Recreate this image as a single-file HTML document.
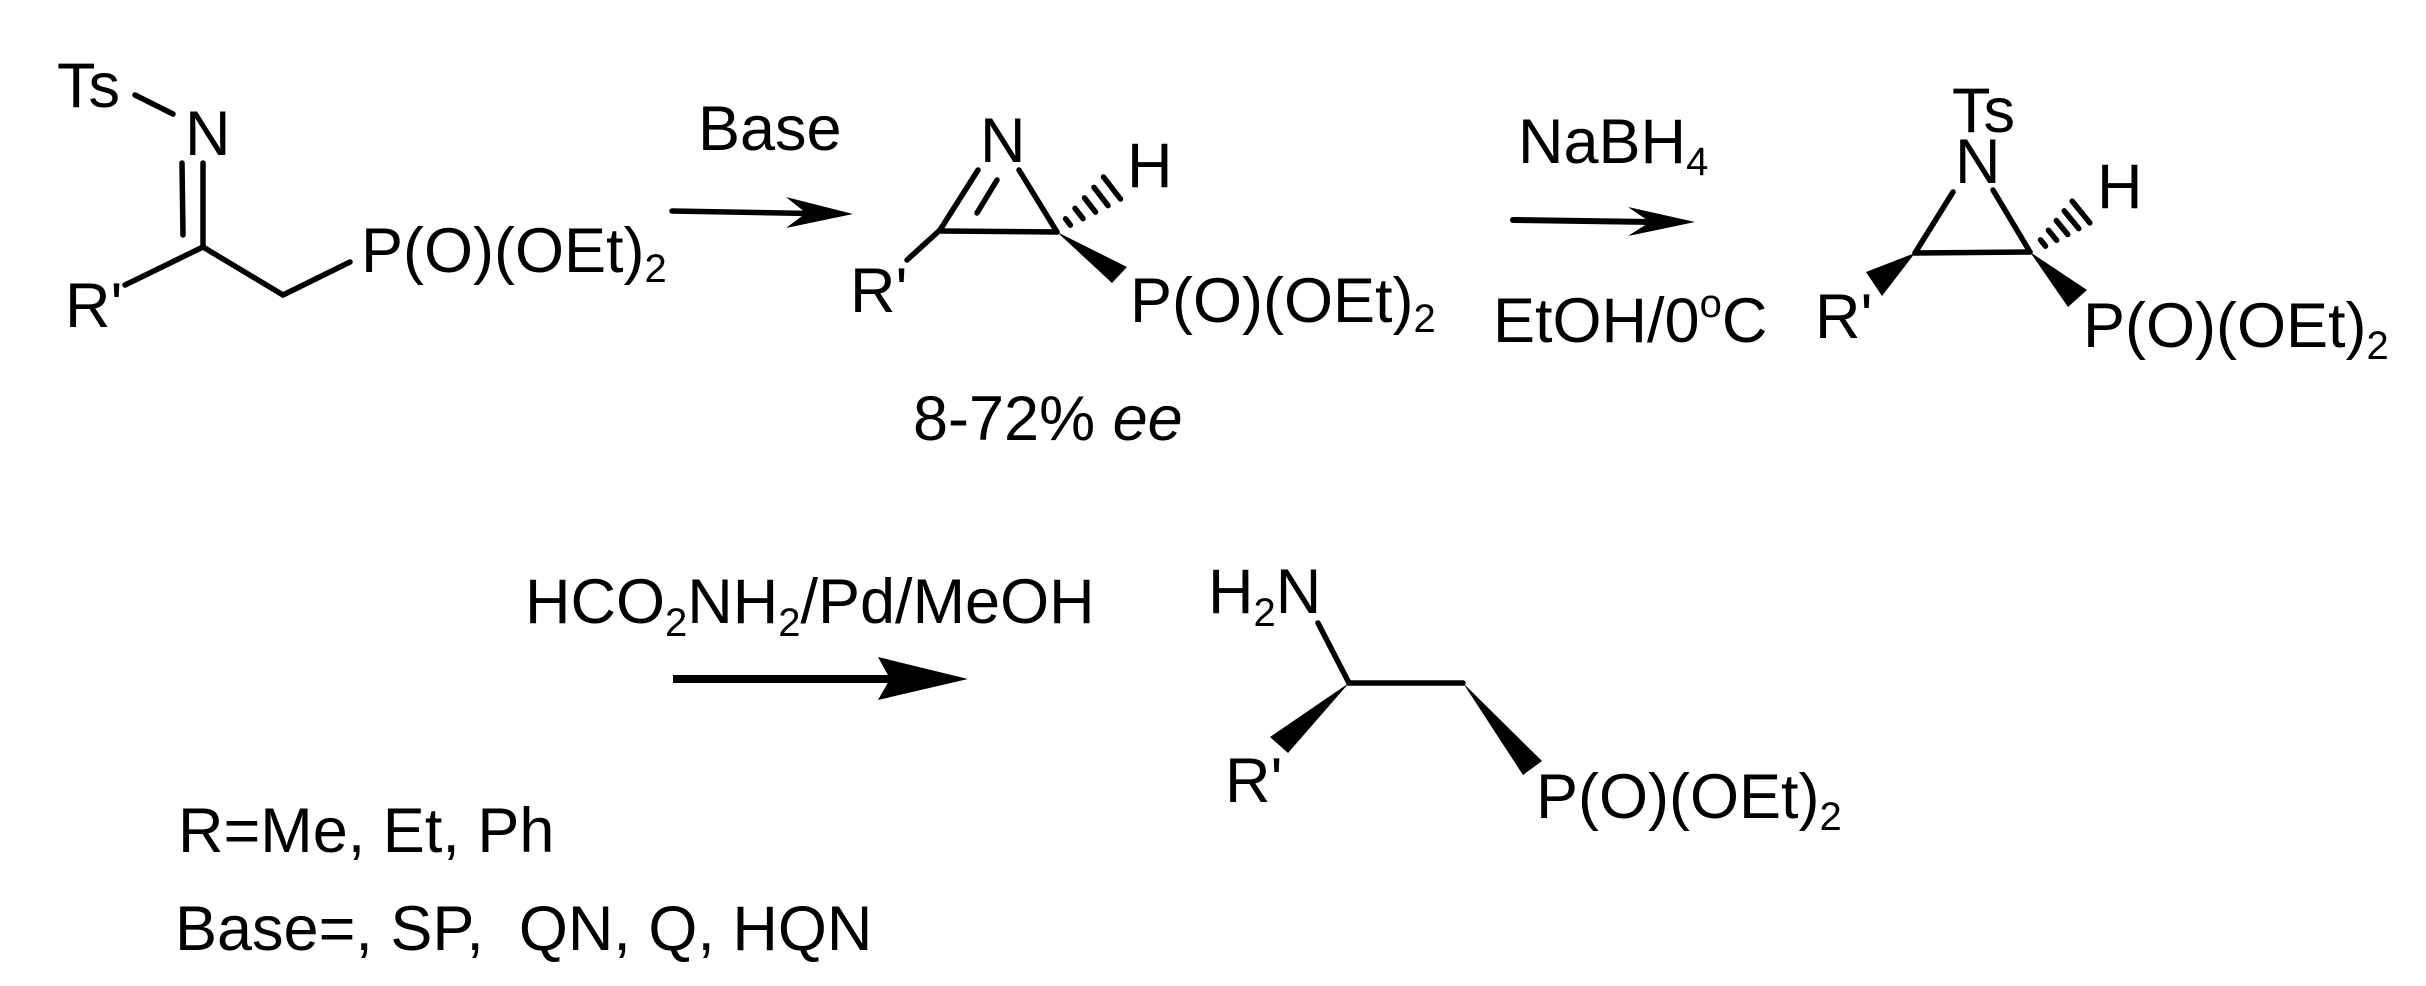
<!DOCTYPE html>
<html><head><meta charset="utf-8">
<style>
html,body{margin:0;padding:0;background:#fff;}
svg{display:block;}
text{font-family:"Liberation Sans",Arial,sans-serif;font-size:63px;fill:#000;}
.s{font-size:40px;}
</style></head>
<body>
<svg width="2426" height="986" viewBox="0 0 2426 986" xmlns="http://www.w3.org/2000/svg">
<g stroke="#000" stroke-width="5.5" stroke-linecap="round" fill="none">
<!-- mol1 -->
<line x1="135" y1="95" x2="173" y2="114"/>
<line x1="182" y1="163" x2="183" y2="235"/>
<line x1="203" y1="163" x2="203" y2="247"/>
<line x1="203" y1="247" x2="125" y2="285"/>
<line x1="203" y1="247" x2="283" y2="295"/>
<line x1="283" y1="295" x2="350" y2="262"/>
<!-- mol2 -->
<line x1="940" y1="230" x2="978" y2="170"/>
<line x1="977" y1="213" x2="997" y2="180"/>
<line x1="1019" y1="170" x2="1057" y2="232"/>
<line x1="940" y1="231" x2="1057" y2="232"/>
<line x1="940" y1="230" x2="907" y2="260"/>
<line x1="1065.6" y1="218.8" x2="1070.4" y2="225.2"/>
<line x1="1075" y1="208.4" x2="1083" y2="218.6"/>
<line x1="1084.5" y1="197.9" x2="1095.5" y2="212.1"/>
<line x1="1094" y1="187.4" x2="1108" y2="205.6"/>
<line x1="1103.5" y1="177" x2="1120.5" y2="199"/>
<!-- mol3 -->
<line x1="1915" y1="253" x2="1953" y2="192"/>
<line x1="1993" y1="190" x2="2030" y2="252"/>
<line x1="1915" y1="253" x2="2030" y2="252"/>
<line x1="2040.5" y1="239.9" x2="2045.5" y2="246.1"/>
<line x1="2048.4" y1="230.3" x2="2056.6" y2="240.3"/>
<line x1="2056.3" y1="220.5" x2="2067.7" y2="234.5"/>
<line x1="2064.2" y1="210.9" x2="2078.8" y2="228.6"/>
<line x1="2072.2" y1="201.1" x2="2089.8" y2="222.9"/>
<!-- mol4 -->
<line x1="1318" y1="623" x2="1349" y2="683"/>
<line x1="1349" y1="683" x2="1463" y2="683"/>
<!-- arrows -->
<line x1="672" y1="211" x2="810" y2="213.5" stroke-width="5.5"/>
<line x1="1513" y1="220" x2="1652" y2="222" stroke-width="6"/>
<line x1="673" y1="679" x2="890" y2="679" stroke-width="8" stroke-linecap="butt"/>
</g>
<g fill="#000">
<polygon points="853,214 786,197 806,213 786,228"/>
<polygon points="1695,222 1628,207 1650,222 1628,236"/>
<polygon points="968,679 878,657 890,679 878,700"/>
<polygon points="1057,232 1112,283 1127,267"/>
<polygon points="1915,253 1866,272 1882,296"/>
<polygon points="2030,252 2068,307 2087,290"/>
<polygon points="1349,683 1270,737 1288,753"/>
<polygon points="1463,683 1523,775 1542,761"/>
</g>
<!-- mol1 text -->
<text x="57" y="107">Ts</text>
<text x="185" y="155">N</text>
<text x="65" y="327">R'</text>
<text x="361" y="272">P(O)(OEt)<tspan class="s" dy="10">2</tspan></text>
<!-- arrow1 -->
<text x="698" y="150">Base</text>
<!-- mol2 -->
<text x="980" y="162">N</text>
<text x="1127" y="187">H</text>
<text x="850" y="312">R'</text>
<text x="1130" y="322">P(O)(OEt)<tspan class="s" dy="10">2</tspan></text>
<text x="913" y="440">8-72% <tspan font-style="italic">ee</tspan></text>
<!-- arrow2 -->
<text x="1518" y="163">NaBH<tspan class="s" dy="12">4</tspan></text>
<text x="1493" y="342">EtOH/0<tspan class="s" dy="-25">o</tspan><tspan dy="25">C</tspan></text>
<!-- mol3 -->
<text x="1952" y="132">Ts</text>
<text x="1955" y="183">N</text>
<text x="2097" y="208">H</text>
<text x="1815" y="338">R'</text>
<text x="2083" y="347">P(O)(OEt)<tspan class="s" dy="12">2</tspan></text>
<!-- bottom -->
<text x="525" y="623">HCO<tspan class="s" dy="13">2</tspan><tspan dy="-13">NH</tspan><tspan class="s" dy="13">2</tspan><tspan dy="-13">/Pd/MeOH</tspan></text>
<text x="1208" y="613">H<tspan class="s" dy="13">2</tspan><tspan dy="-13">N</tspan></text>
<text x="1225" y="802">R'</text>
<text x="1536" y="818">P(O)(OEt)<tspan class="s" dy="12">2</tspan></text>
<text x="178" y="852">R=Me, Et, Ph</text>
<text x="175" y="950">Base=, SP,&#160; QN, Q, HQN</text>
</svg>
</body></html>
